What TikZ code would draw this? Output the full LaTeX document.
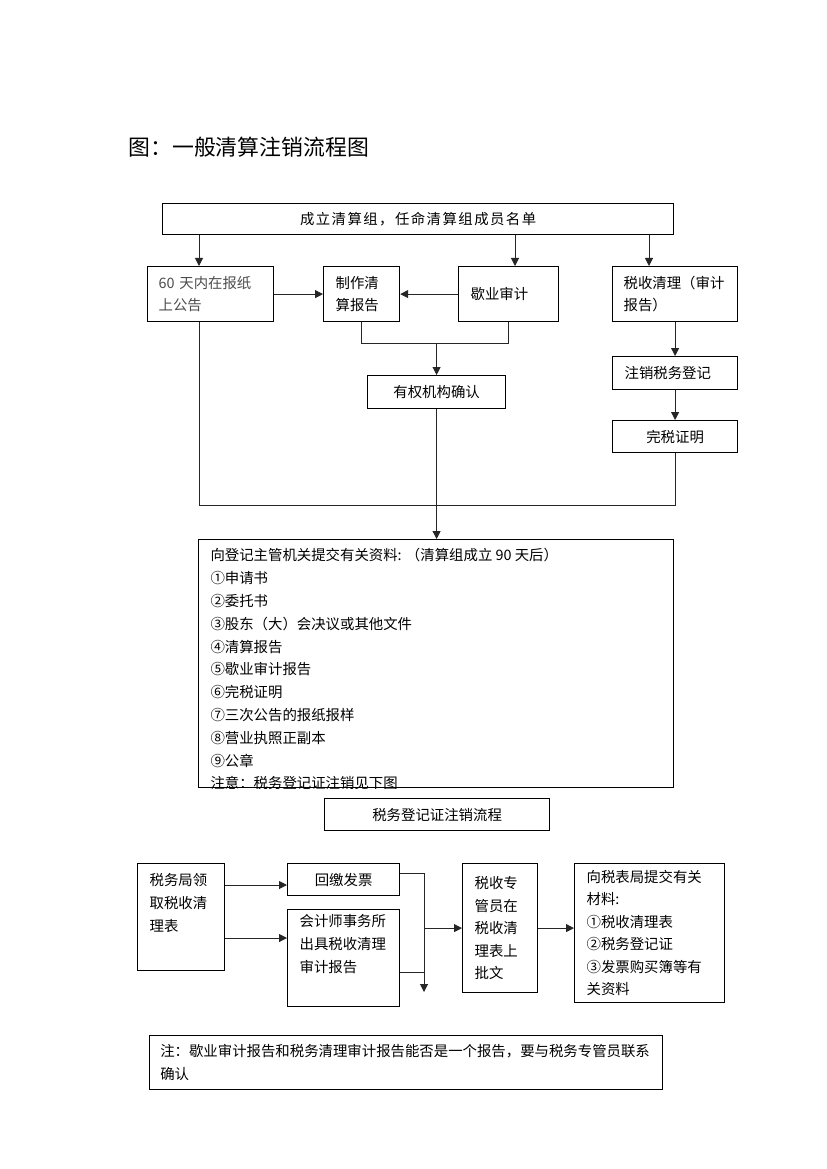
\documentclass[tikz,border=0pt]{standalone}
\usepackage{fontspec}
\setmainfont{Noto Sans CJK SC}
\usetikzlibrary{arrows.meta}

\tikzset{every picture/.style={line width=0.75pt}}
\tikzset{
  box/.style={draw, line width=0.9pt, anchor=north west, align=left, inner ysep=0pt,
    font=\fontsize{10.8pt}{16.9pt}\selectfont},
  arr/.style={-{Triangle[length=6pt,width=6pt]}},
  link/.style={draw=black!85, line width=0.75pt},
}

\begin{document}
\begin{tikzpicture}[x=0.75pt,y=0.75pt,yscale=-1,xscale=1]
	\useasboundingbox (0,0) rectangle (826,1169);

	% Title
	\node[anchor=west, inner sep=0pt, font=\fontsize{16.4pt}{20pt}\selectfont] (title) at (128,147) {图：一般清算注销流程图};

	% general liquidation
	\node[box, align=center, minimum width=383.25pt, minimum height=23.25pt] (setup) at (162,203) {\addfontfeature{LetterSpace=10}成立清算组，任命清算组成员名单};
	\node[box, minimum width=94.5pt, minimum height=41.25pt, inner xsep=8.25pt, text width=78pt, text=black!70] (notice) at (147,266) {60 天内在报纸\\上公告};
	\node[box, minimum width=57pt, minimum height=41.25pt, inner xsep=9pt, text width=39pt] (report) at (323,266) {制作清\\算报告};
	\node[box, minimum width=75pt, minimum height=41.25pt, inner xsep=9pt, text width=57pt] (audit) at (458,266) {歇业审计};
	\node[box, minimum width=93.75pt, minimum height=41.25pt, inner xsep=8.25pt, text width=77.25pt] (taxclr) at (612,266) {税收清理（审计\\报告）};
	\node[box, align=center, minimum width=103.5pt, minimum height=24.75pt] (confirm) at (367,375) {有权机构确认};
	\node[box, minimum width=93.75pt, minimum height=24.75pt, inner xsep=9pt, text width=75.75pt] (dereg) at (612,356) {注销税务登记};
	\node[box, align=center, minimum width=93.75pt, minimum height=24pt] (taxpaid) at (612,420) {完税证明};

	% documents to hand in
	\node[box, minimum width=356.25pt, minimum height=186pt] (docs) at (198,539) {};
	\begin{scope}
		\clip (docs.north west) rectangle (docs.south east);
		\node[anchor=north west, align=left, inner sep=0pt, font=\fontsize{10.8pt}{17.1pt}\selectfont] (doclist) at (210,548)
			{向登记主管机关提交有关资料: （清算组成立 90 天后）\\①申请书\\②委托书\\③股东（大）会决议或其他文件\\④清算报告\\⑤歇业审计报告\\⑥完税证明\\⑦三次公告的报纸报样\\⑧营业执照正副本\\⑨公章\\注意：税务登记证注销见下图};
	\end{scope}

	\draw[link, arr] (199,0 |- setup.south) -- (199,0 |- notice.north);
	\draw[link, arr] (515,0 |- setup.south) -- (515,0 |- audit.north);
	\draw[link, arr] (649,0 |- setup.south) -- (649,0 |- taxclr.north);
	\draw[link, arr] (notice.east) -- (report.west);
	\draw[link, arr] (audit.west) -- (report.east);
	\draw[link] (report.south) |- (audit.south |- 0,343) -- (audit.south);
	\draw[link, arr] (confirm.north |- 0,343) -- (confirm.north);
	\draw[link, arr] (confirm.south) -- (confirm.south |- docs.north);
	\draw[link] (199,0 |- notice.south) |- (taxpaid.south |- 0,505) -- (taxpaid.south);
	\draw[link, arr] (taxclr.south) -- (dereg.north);
	\draw[link, arr] (dereg.south) -- (taxpaid.north);

	% tax registration
	\node[box, align=center, minimum width=168.75pt, minimum height=24pt] (flowtitle) at (324,798) {税务登记证注销流程};
	\node[box, minimum width=65.25pt, minimum height=80.25pt, inner xsep=9pt, text width=47.25pt] (fetch) at (137,863) {税务局领\\取税收清\\理表\\\strut};
	\node[box, align=center, minimum width=84pt, minimum height=24pt] (invoice) at (287,863) {回缴发票};
	\node[box, minimum width=84pt, minimum height=72.75pt, inner xsep=9pt, text width=66pt] (cpa) at (287,909) {会计师事务所\\出具税收清理\\审计报告\\\strut};
	\node[box, minimum width=56.25pt, minimum height=96.75pt, inner xsep=9pt, text width=38.25pt] (officer) at (462,863) {税收专\\管员在\\税收清\\理表上\\批文};
	\node[box, minimum width=112.5pt, minimum height=104.25pt, inner xsep=9pt, text width=94.5pt] (submit) at (574,863) {向税表局提交有关\\材料:\\①税收清理表\\②税务登记证\\③发票购买簿等有\\关资料};
	\coordinate (drop) at (424,992);

	\draw[link, arr] (fetch.east |- 0,885) -- (invoice.west |- 0,885);
	\draw[link, arr] (fetch.east |- 0,938) -- (cpa.west |- 0,938);
	\draw[link, arr] (invoice.east |- 0,873) -| (drop);
	\draw[link] (cpa.east |- 0,972) -- (drop |- 0,972);
	\draw[link, arr] (drop |- officer.west) -- (officer.west);
	\draw[link, arr] (officer.east) -- (submit.west |- officer.east);

	% remark
	\node[box, minimum width=384.75pt, minimum height=40.5pt, inner xsep=8pt, text width=368.75pt] (remark) at (149,1035) {注：歇业审计报告和税务清理审计报告能否是一个报告，要与税务专管员联系\\确认};
\end{tikzpicture}
\end{document}
